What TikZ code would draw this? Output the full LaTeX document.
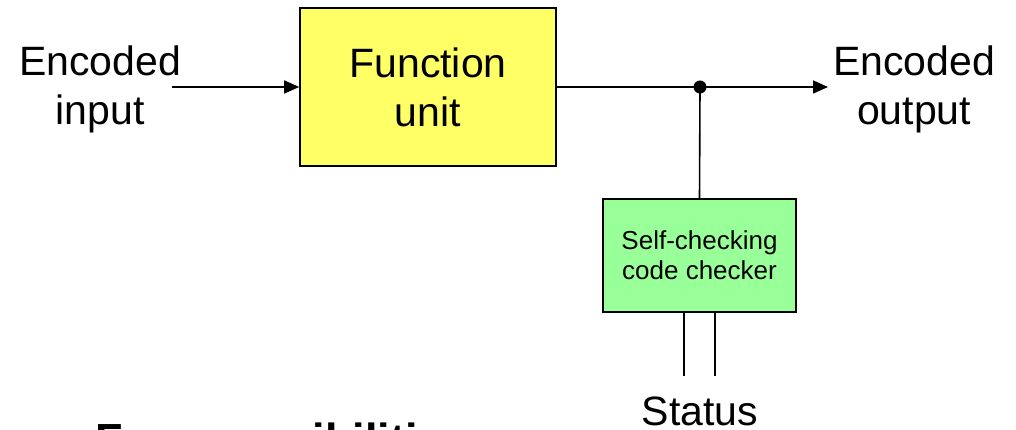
\documentclass[tikz,border=0pt]{standalone}
\usepackage{fontspec}
\setmainfont{Liberation Sans}
\usetikzlibrary{arrows.meta}
\definecolor{unitfill}{HTML}{FFFF66}
\definecolor{checkfill}{HTML}{99FF99}
\begin{document}
\begin{tikzpicture}[x=1pt,y=-1pt,
  wire/.style={line width=1.6pt},
  flow/.style={wire,-{Triangle[length=15pt,width=13pt]}},
  block/.style={draw,line width=1.6pt,inner sep=0,align=center},
  bigtext/.style={font=\fontsize{41}{49}\selectfont},
  smalltext/.style={font=\fontsize{26}{30}\selectfont},
  label/.style={align=center,inner sep=0,bigtext}]
\useasboundingbox (0,0) rectangle (1016,430);
\clip (0,0) rectangle (1016,430);

% blocks
\node[block,bigtext,fill=unitfill,minimum width=256pt,minimum height=158pt] (fu) at (428,87) {Function\\unit};
\node[block,smalltext,fill=checkfill,minimum width=193pt,minimum height=113pt] (chk) at (699.5,255.5) {Self-checking\\code checker};

% terminal labels
\node[label] (inlbl) at (100,89) {Encoded\\input};
\node[label] (outlbl) at (914,89) {Encoded\\output};
\node[label,anchor=base] (status) at (700,425) {Status};

% signal path
\coordinate (inStart) at (172,87);
\coordinate (outEnd) at (828,87);
\node[circle,fill=black,inner sep=0,minimum size=13pt] (tap) at (700,87) {};
\coordinate (stA) at (684,376);
\coordinate (stB) at (715,376);

\draw[flow] (inStart) -- (fu.west);
\draw[flow] (fu.east) -- (outEnd);
\draw[wire] (tap.center) -- (chk.north);
\draw[wire] (chk.south -| stA) -- (stA);
\draw[wire] (chk.south -| stB) -- (stB);

% heading below the diagram
\node[anchor=base west,inner sep=0,font=\fontsize{45}{54}\selectfont\bfseries] (heading) at (95,455) {Four possibilities};
\end{tikzpicture}
\end{document}
